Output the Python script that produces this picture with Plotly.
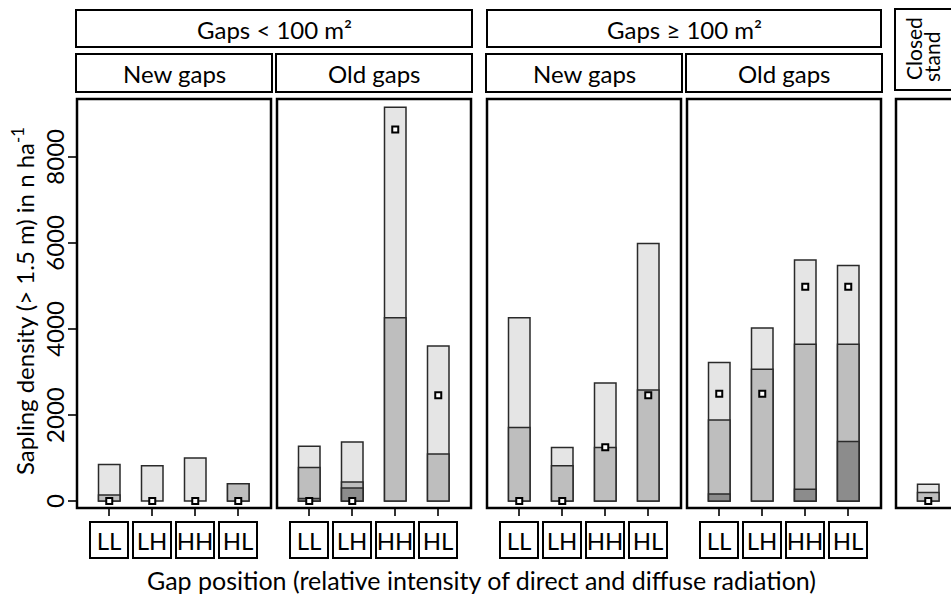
import plotly.graph_objects as go

W, H = 951, 595

positions = ["LL", "LH", "HH", "HL"]
panel_titles = ["New gaps", "Old gaps", "New gaps", "Old gaps"]
size_titles = ["Gaps < 100 m²", "Gaps ≥ 100 m²"]
closed_title = ["Closed", "stand"]
y_title = "Sapling density (> 1.5 m) in n ha<sup>-1</sup>"
x_title = "Gap position (relative intensity of direct and diffuse radiation)"
y_ticks = [0, 2000, 4000, 6000, 8000]

# Gaps < 100 m², new gaps (cumulative densities, n/ha)
light_small_new = [850, 820, 1000, 400]
mid_small_new = [140, None, None, 400]
dark_small_new = [None, None, None, None]
point_small_new = [0, 0, 0, 0]

# Gaps < 100 m², old gaps
light_small_old = [1270, 1370, 9150, 3600]
mid_small_old = [780, 440, 4260, 1090]
dark_small_old = [60, 300, None, None]
point_small_old = [0, 0, 8630, 2455]

# Gaps >= 100 m², new gaps
light_large_new = [4260, 1240, 2740, 5980]
mid_large_new = [1710, 820, 1240, 2580]
dark_large_new = [None, None, None, None]
point_large_new = [0, 0, 1250, 2455]

# Gaps >= 100 m², old gaps
light_large_old = [3220, 4020, 5600, 5470]
mid_large_old = [1880, 3060, 3640, 3640]
dark_large_old = [160, None, 270, 1380]
point_large_old = [2490, 2490, 4975, 4980]

# Closed stand
light_closed = [390]
mid_closed = [200]
dark_closed = [None]
point_closed = [0]

C_LIGHT, C_MID, C_DARK = "#e5e5e5", "#bebebe", "#8c8c8c"
FONT = "Lato"
FS = 24


def px(x):
    return x / W


def py(y):
    return 1 - y / H


panels = [
    (light_small_new, mid_small_new, dark_small_new, point_small_new),
    (light_small_old, mid_small_old, dark_small_old, point_small_old),
    (light_large_new, mid_large_new, dark_large_new, point_large_new),
    (light_large_old, mid_large_old, dark_large_old, point_large_old),
    (light_closed, mid_closed, dark_closed, point_closed),
]
panel_px = [(77, 271), (277, 471), (487, 681), (687, 881), (896, 951)]
PANEL_TOP, PANEL_BOT = 99, 508
UNIT = 43.0  # px per category step

fig = go.Figure()
layout = dict(
    width=W, height=H, margin=dict(l=0, r=0, t=0, b=0),
    paper_bgcolor="white", plot_bgcolor="white", barmode="overlay",
    showlegend=False, font=dict(family=FONT, size=FS, color="black"),
)
shapes = []
annotations = []

for i, (light, mid, dark, pts) in enumerate(panels):
    n = i + 1
    xs = [k + 1 for k in range(len(light))]
    xa = "x" if n == 1 else f"x{n}"
    ya = "y" if n == 1 else f"y{n}"
    for vals, col in ((light, C_LIGHT), (mid, C_MID), (dark, C_DARK)):
        fig.add_trace(go.Bar(
            x=xs, y=vals, width=0.5, xaxis=xa, yaxis=ya,
            marker=dict(color=col, line=dict(color="#2a2a2a", width=1.5)),
            hoverinfo="skip"))
    fig.add_trace(go.Scatter(
        x=xs, y=pts, mode="markers", xaxis=xa, yaxis=ya,
        marker=dict(symbol="square", size=6, color="white",
                    line=dict(color="black", width=2)),
        hoverinfo="skip"))
    x0, x1 = panel_px[i]
    width_px = x1 - x0
    rng = [0.25, 0.25 + width_px / UNIT]
    axkey = "xaxis" if n == 1 else f"xaxis{n}"
    aykey = "yaxis" if n == 1 else f"yaxis{n}"
    has_ticks = i < 4
    layout[axkey] = dict(
        domain=[px(x0), px(x1)], range=rng, anchor=ya, showgrid=False,
        zeroline=False, showline=False, showticklabels=False,
        tickvals=xs if has_ticks else [], ticks="outside" if has_ticks else "",
        ticklen=7, tickwidth=1.5, tickcolor="#333")
    layout[aykey] = dict(
        domain=[py(PANEL_BOT), py(PANEL_TOP)], range=[-163, 9340], anchor=xa,
        showgrid=False, zeroline=False, showline=False,
        showticklabels=False, tickvals=y_ticks if n == 1 else [],
        ticks="outside" if n == 1 else "", ticklen=8, tickwidth=1.5,
        tickcolor="#333")
    # panel frame
    shapes.append(dict(type="rect", xref="paper", yref="paper",
                       x0=px(x0), x1=px(x1 + (20 if i == 4 else 0)),
                       y0=py(PANEL_BOT), y1=py(PANEL_TOP),
                       line=dict(color="black", width=2.5)))
    if has_ticks:
        # sub strip
        shapes.append(dict(type="rect", xref="paper", yref="paper",
                           x0=px(x0 - 1), x1=px(x1 + 1), y0=py(92), y1=py(54),
                           line=dict(color="black", width=2)))
        annotations.append(dict(text=panel_titles[i], xref="paper", yref="paper",
                                x=px((x0 + x1) / 2), y=py(73), showarrow=False,
                                xanchor="center", yanchor="middle",
                                font=dict(size=FS)))
        for k, lab in enumerate(positions):
            annotations.append(dict(
                text=lab, xref=xa, yref="paper", x=k + 1, y=py(540),
                showarrow=False, xanchor="center", yanchor="middle",
                width=34, height=32, borderpad=1, borderwidth=2,
                bordercolor="black", bgcolor="white", font=dict(size=FS)))

# y tick labels (rotated, as in the reference)
for v in y_ticks:
    annotations.append(dict(text=str(v), xref="paper", yref="y", x=px(55), y=v,
                            showarrow=False, textangle=-90, xanchor="center",
                            yanchor="middle", font=dict(size=FS)))

# top strips
for j, (a, b) in enumerate([(76, 472), (487, 881)]):
    shapes.append(dict(type="rect", xref="paper", yref="paper",
                       x0=px(a), x1=px(b), y0=py(47), y1=py(10),
                       line=dict(color="black", width=2)))
    annotations.append(dict(text=size_titles[j], xref="paper", yref="paper",
                            x=px((a + b) / 2), y=py(29), showarrow=False,
                            xanchor="center", yanchor="middle",
                            font=dict(size=FS)))
# closed stand strip
shapes.append(dict(type="rect", xref="paper", yref="paper",
                   x0=px(895), x1=px(975), y0=py(90), y1=py(9),
                   line=dict(color="black", width=2)))
annotations.append(dict(text=closed_title[0], xref="paper", yref="paper",
                        x=px(913), y=py(49), showarrow=False, textangle=-90,
                        xanchor="center", yanchor="middle", font=dict(size=21)))
annotations.append(dict(text=closed_title[1], xref="paper", yref="paper",
                        x=px(932), y=py(57), showarrow=False, textangle=-90,
                        xanchor="center", yanchor="middle", font=dict(size=21)))

# axis titles
annotations.append(dict(text=y_title, xref="paper", yref="paper", x=px(23),
                        y=py(301), showarrow=False, textangle=-90,
                        xanchor="center", yanchor="middle", font=dict(size=FS)))
annotations.append(dict(text=x_title, xref="paper", yref="paper", x=px(482),
                        y=py(580), showarrow=False, xanchor="center",
                        yanchor="middle", font=dict(size=25)))

layout["shapes"] = shapes
layout["annotations"] = annotations
fig.update_layout(**layout)
fig.write_html("out.html")
